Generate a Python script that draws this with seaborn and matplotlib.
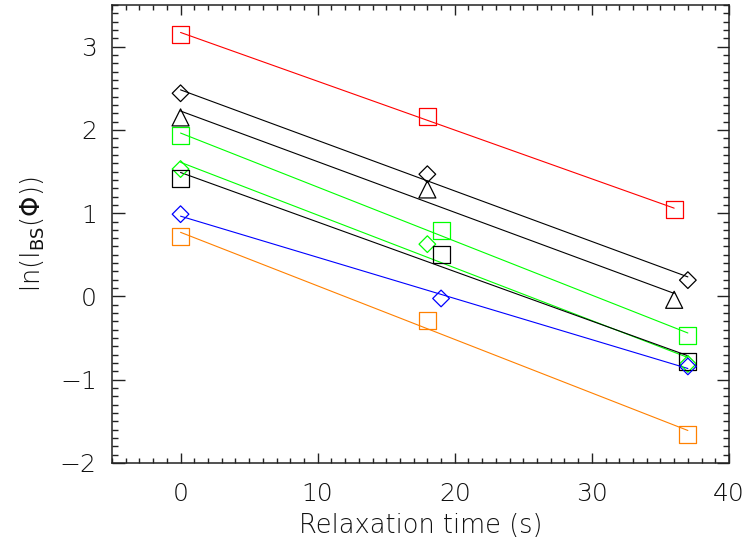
import numpy as np
import matplotlib
matplotlib.use("Agg")
import matplotlib.pyplot as plt
from matplotlib.ticker import MultipleLocator
import seaborn as sns

# Relaxation times (s) and ln(I_BS) values for each measurement series
t_red_sq = [0, 18, 36]
y_red_sq = [3.15, 2.156, 1.04]

t_blk_dia = [0, 18, 37]
y_blk_dia = [2.44, 1.468, 0.196]

t_blk_tri = [0, 18, 36]
y_blk_tri = [2.15, 1.285, -0.04]

t_grn_sq = [0, 19, 37]
y_grn_sq = [1.93, 0.796, -0.473]

t_grn_dia = [0, 18, 37]
y_grn_dia = [1.53, 0.628, -0.81]

t_blk_sq = [0, 19, 37]
y_blk_sq = [1.42, 0.50, -0.785]

t_blu_dia = [0, 19, 37]
y_blu_dia = [0.988, -0.024, -0.84]

t_org_sq = [0, 18, 37]
y_org_sq = [0.72, -0.29, -1.657]

series = [
    (t_red_sq, y_red_sq, "#ff0000", "s"),
    (t_blk_dia, y_blk_dia, "#000000", "D"),
    (t_blk_tri, y_blk_tri, "#000000", "^"),
    (t_grn_sq, y_grn_sq, "#00ff00", "s"),
    (t_grn_dia, y_grn_dia, "#00ff00", "D"),
    (t_blk_sq, y_blk_sq, "#000000", "s"),
    (t_blu_dia, y_blu_dia, "#0000ff", "D"),
    (t_org_sq, y_org_sq, "#ff8000", "s"),
]

marker_area = {"s": 150, "D": 72, "^": 150}

sns.set_theme(style="ticks")
plt.rcParams["font.family"] = ["DejaVu Sans"]
plt.rcParams["mathtext.fontset"] = "dejavusans"
plt.rcParams["text.color"] = "#111111"
plt.rcParams["axes.labelcolor"] = "#111111"
plt.rcParams["xtick.color"] = "#222222"
plt.rcParams["ytick.color"] = "#222222"
plt.rcParams["xtick.labelcolor"] = "#111111"
plt.rcParams["ytick.labelcolor"] = "#111111"

fig = plt.figure(figsize=(7.46, 5.48), dpi=100)
ax = fig.add_axes([112 / 746, 85 / 548, 617 / 746, 458 / 548])

for t, y, color, mk in series:
    t = np.asarray(t, dtype=float)
    y = np.asarray(y, dtype=float)
    # least-squares straight line through each series
    slope, icpt = np.polyfit(t, y, 1)
    tf = np.array([t.min(), t.max()])
    sns.lineplot(x=tf, y=icpt + slope * tf, color=color, linewidth=0.8, ax=ax)
    sns.scatterplot(x=t, y=y, marker=mk, s=marker_area[mk], facecolor="none",
                    edgecolor=color, linewidth=0.9, ax=ax, zorder=3)

ax.set_xlim(-5, 40)
ax.set_ylim(-2, 3.5)
ax.xaxis.set_major_locator(MultipleLocator(10))
ax.xaxis.set_minor_locator(MultipleLocator(1))
ax.yaxis.set_major_locator(MultipleLocator(1))
ax.yaxis.set_minor_locator(MultipleLocator(0.1))

for s in ax.spines.values():
    s.set_visible(True)
    s.set_color("#222222")
    s.set_linewidth(1.1)

ax.tick_params(which="both", direction="in", top=True, right=True, width=1.0)
ax.tick_params(axis="x", which="major", length=7, pad=14)
ax.tick_params(axis="x", which="minor", length=3.5)
ax.tick_params(axis="y", which="major", length=9, pad=11)
ax.tick_params(axis="y", which="minor", length=4.5)

for lab in ax.get_xticklabels() + ax.get_yticklabels():
    lab.set_fontsize(18)
    lab.set_fontweight("light")

ax.set_xlabel("Relaxation time (s)", fontsize=18.5, fontweight="light", labelpad=5)
ax.set_ylabel(r"ln(I$_{\rm BS}$($\Phi$))", fontsize=18.5, fontweight="light", labelpad=9)

fig.savefig("out.png", dpi=100)
